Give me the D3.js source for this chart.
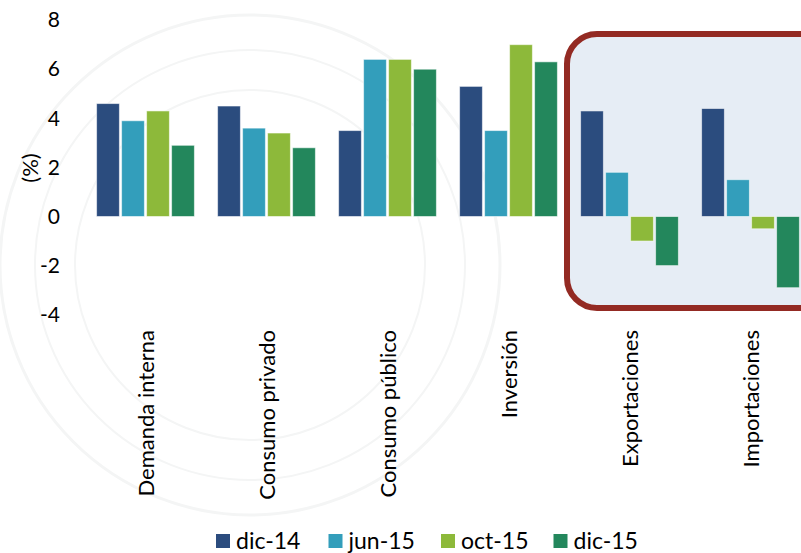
<!DOCTYPE html>
<html>
<head>
<meta charset="utf-8">
<script src="https://cdn.jsdelivr.net/npm/d3@7"></script>
<style>
  html, body { margin: 0; padding: 0; background: #ffffff; }
  svg { display: block; font-family: Lato, "Open Sans", sans-serif; }
</style>
</head>
<body>
<svg id="chart" width="801" height="553"></svg>
<script>
const categories = ["Demanda interna", "Consumo privado", "Consumo público", "Inversión", "Exportaciones", "Importaciones"];
const seriesNames = ["dic-14", "jun-15", "oct-15", "dic-15"];
const dic14 = [4.6, 4.5, 3.5, 5.3, 4.3, 4.4];
const jun15 = [3.9, 3.6, 6.4, 3.5, 1.8, 1.5];
const oct15 = [4.3, 3.4, 6.4, 7.0, -1.0, -0.5];
const dic15 = [2.9, 2.8, 6.0, 6.3, -2.0, -2.9];
const yTicks = [-4, -2, 0, 2, 4, 6, 8];
const highlighted = ["Exportaciones", "Importaciones"];
const colors = ["#2b4c7e", "#339ebb", "#8db93a", "#23875c"];

const seriesValues = [dic14, jun15, oct15, dic15];
const svg = d3.select("#chart");

// faint watermark seal
const wm = svg.append("g").attr("fill", "none").attr("stroke", "#f4f5f5");
[[250, 3], [215, 2], [175, 2]].forEach(([r, w]) => {
  wm.append("circle").attr("cx", 250).attr("cy", 265).attr("r", r).attr("stroke-width", w);
});

const x0 = d3.scaleBand().domain(categories).range([85, 811]).padding(0);
const x1 = d3.scaleBand().domain(seriesNames).range([11.6, 109.4]).paddingInner(0.088).paddingOuter(0);
const y = d3.scaleLinear().domain([-4, 8]).range([314.7, 20.1]);

// highlight box
const hx = x0(highlighted[0]) - 2;
svg.append("rect")
  .attr("x", hx).attr("y", 34)
  .attr("width", 801 - hx + 40).attr("height", 274)
  .attr("rx", 30).attr("ry", 30)
  .attr("fill", "#e6edf5")
  .attr("stroke", "#932a23")
  .attr("stroke-width", 6);

// bars
const groups = svg.append("g").selectAll("g")
  .data(categories)
  .join("g")
  .attr("transform", d => `translate(${x0(d)},0)`);

groups.selectAll("rect")
  .data((c, i) => seriesNames.map((s, k) => ({ s, k, v: seriesValues[k][i] })))
  .join("rect")
  .attr("x", d => x1(d.s))
  .attr("width", x1.bandwidth())
  .attr("y", d => y(Math.max(0, d.v)))
  .attr("height", d => Math.abs(y(d.v) - y(0)))
  .attr("fill", d => colors[d.k])
  .attr("stroke", "rgba(255,255,255,0.55)")
  .attr("stroke-width", 1);

// y axis labels
const yAxis = d3.axisLeft(y).tickValues(yTicks).tickSize(0).tickPadding(0).tickFormat(d => String(d));
const ya = svg.append("g").attr("transform", "translate(60,0)").call(yAxis);
ya.select(".domain").remove();
ya.selectAll("text").attr("font-size", 21).attr("fill", "#000").attr("font-family", "Lato, sans-serif");

svg.append("text")
  .attr("transform", "translate(30,168) rotate(-90)")
  .attr("text-anchor", "middle")
  .attr("dy", "0.35em")
  .attr("font-size", 22)
  .attr("fill", "#000")
  .text("(%)");

// category labels
svg.append("g").selectAll("text")
  .data(categories)
  .join("text")
  .attr("transform", d => `translate(${x0(d) + x0.bandwidth() / 2 + 1},330) rotate(-90)`)
  .attr("text-anchor", "end")
  .attr("dy", "0.35em")
  .attr("font-size", 22)
  .attr("fill", "#000")
  .text(d => d);

// legend
const legend = svg.append("g").attr("transform", "translate(216,0)");
const li = legend.selectAll("g").data(seriesNames).join("g")
  .attr("transform", (d, i) => `translate(${i * 112.5},0)`);
li.append("rect").attr("x", 0).attr("y", 534).attr("width", 14).attr("height", 14)
  .attr("fill", (d, i) => colors[i]);
li.append("text").attr("x", 20).attr("y", 548.5)
  .attr("font-size", 23).attr("fill", "#000").text(d => d);
</script>
</body>
</html>
